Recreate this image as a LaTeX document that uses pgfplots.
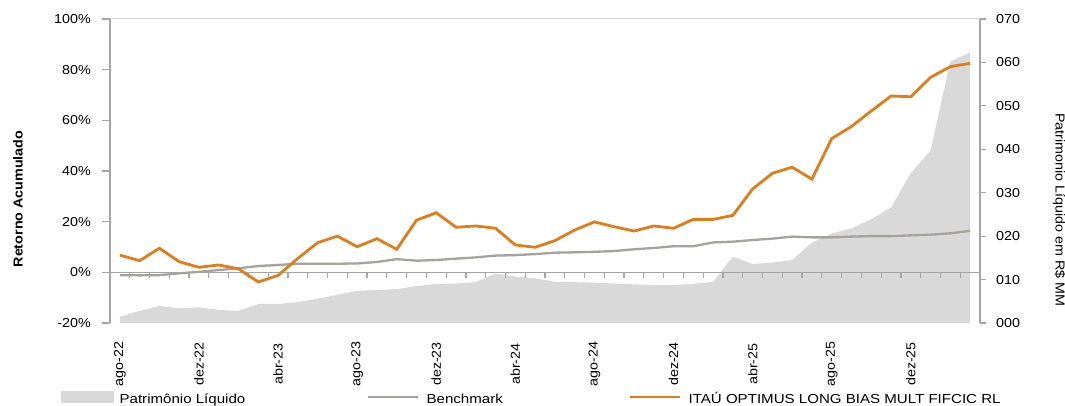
\documentclass[border=0pt]{standalone}
\usepackage{fontspec}
\setmainfont{Liberation Sans}[FakeStretch=1.1]
\newfontfamily\legfont{Liberation Sans}[FakeStretch=1.16]
\usepackage{pgfplots}
\pgfplotsset{compat=1.18}
\usepackage{pgfplotstable}
\definecolor{orangec}{RGB}{226,124,24}
\definecolor{benchc}{RGB}{166,162,156}
\definecolor{areac}{RGB}{217,217,217}
\definecolor{axisc}{RGB}{165,165,165}
\definecolor{framec}{RGB}{215,215,215}
\newcommand\fs{\fontsize{13}{15}\selectfont}

\pgfplotstableread{
i pl bench fund
0 1.45 -1.1 6.8
1 2.8 -1.2 4.6
2 3.9 -1.1 9.5
3 3.4 -0.4 4.2
4 3.6 0.2 2.0
5 3.0 0.9 2.9
6 2.8 1.6 1.4
7 4.4 2.5 -3.8
8 4.4 2.9 -1.2
9 4.8 3.4 5.5
10 5.6 3.4 11.7
11 6.5 3.4 14.3
12 7.4 3.5 10.1
13 7.6 4.1 13.3
14 7.8 5.2 9.1
15 8.5 4.6 20.6
16 9.0 4.85 23.5
17 9.1 5.4 17.8
18 9.4 5.9 18.3
19 11.4 6.6 17.4
20 10.7 6.8 10.8
21 10.3 7.2 9.9
22 9.5 7.75 12.5
23 9.4 7.9 16.7
24 9.3 8.1 19.9
25 9.1 8.4 18.0
26 8.9 9.1 16.3
27 8.75 9.6 18.3
28 8.75 10.3 17.4
29 9.0 10.3 20.9
30 9.5 11.8 20.9
31 15.3 12.1 22.5
32 13.6 12.75 32.9
33 13.9 13.3 39.1
34 14.5 14.1 41.5
35 18.5 13.8 36.8
36 20.6 13.8 52.8
37 21.8 14.1 57.6
38 23.9 14.3 63.7
39 26.6 14.3 69.6
40 34.5 14.6 69.3
41 39.7 14.85 77.0
42 60.2 15.4 81.2
43 62.3 16.4 82.5
}\datatable

\begin{document}
\begin{tikzpicture}[x=1pt,y=1pt]
\useasboundingbox (0,0) rectangle (1065,405);
% right axis: patrimonio liquido
\begin{axis}[
  at={(110pt,82pt)}, anchor=south west,
  width=870pt, height=304pt, scale only axis,
  xmin=-0.5, xmax=43.5, ymin=0, ymax=70,
  clip=false,
  axis line style={draw=none},
  xtick=\empty,
  ytick={0,10,...,70},
  yticklabels={000,010,020,030,040,050,060,070},
  ytick pos=right, yticklabel pos=right,
  tick align=outside, major tick length=5.5pt,
  ytick style={draw=axisc, line width=1.2pt},
  yticklabel style={font=\fs, anchor=west, inner sep=0pt, xshift=10.5pt},
  ylabel={Patrimonio Líquido em R\$ MM},
  ylabel style={font=\fs, at={(axis description cs:1.0908,0.372)}, rotate=180, anchor=center},
]
\addplot[fill=areac, draw=none] table[x=i, y=pl] {\datatable} \closedcycle;
\draw[axisc, line width=1.2pt] (rel axis cs:1,0) -- (rel axis cs:1,1);
\end{axis}
% left axis: retorno acumulado
\begin{axis}[
  at={(110pt,82pt)}, anchor=south west,
  width=870pt, height=304pt, scale only axis,
  xmin=-0.5, xmax=43.5, ymin=-20, ymax=100,
  clip=false,
  axis line style={draw=none},
  xtick={0,4,...,40},
  xticklabels={ago-22,dez-22,abr-23,ago-23,dez-23,abr-24,ago-24,dez-24,abr-25,ago-25,dez-25},
  xtick style={draw=none},
  xticklabel style={font=\fs, rotate=90, anchor=center, inner sep=0pt, xshift=-33pt},
  ytick={-20,0,...,100},
  yticklabels={-20\%,0\%,20\%,40\%,60\%,80\%,100\%},
  ytick pos=left,
  tick align=outside, major tick length=8pt,
  ytick style={draw=axisc, line width=1.2pt},
  yticklabel style={font=\fs, anchor=east, inner sep=0pt, xshift=-11pt},
  ylabel={Retorno Acumulado},
  ylabel style={font=\fs\bfseries, at={(axis description cs:-0.1057,0.408)}, anchor=center},
  legend columns=3,
  legend style={at={(axis description cs:-0.05632,-0.2472)}, anchor=west, draw=none, fill=none,
    font=\legfont\fs, inner sep=0pt, nodes={inner sep=0pt},
    /tikz/every even column/.append style={column sep=0pt},
    /tikz/every odd column/.append style={column sep=0pt}},
]
\draw[framec, line width=1pt] (rel axis cs:0,1) -- (rel axis cs:1,1);
\draw[axisc, line width=1.2pt] (rel axis cs:0,0) -- (rel axis cs:0,1);
\draw[axisc, line width=1.6pt] (axis cs:-0.5,0) -- (axis cs:43.5,0);
\pgfplotsinvokeforeach{0.5,1.5,...,42.5}{\draw[axisc, line width=1.2pt] (axis cs:#1,0) -- ++(0pt,-6pt);}
\addlegendimage{legend image code/.code={\fill[areac] (0pt,-4pt) rectangle (52pt,7pt);}}
\addlegendentry{\makebox[253pt][l]{\strut\hspace{6pt}Patrimônio Líquido}}
\addplot[benchc, line width=2.3pt, legend image code/.code={\draw[benchc, line width=2pt] (0pt,1.5pt) -- (50pt,1.5pt);}] table[x=i, y=bench] {\datatable};
\addlegendentry{\makebox[210pt][l]{\strut\hspace{8pt}Benchmark}}
\addplot[orangec, line width=2.8pt, legend image code/.code={\draw[orangec, line width=2pt] (0pt,1.5pt) -- (50pt,1.5pt);}] table[x=i, y=fund] {\datatable};
\addlegendentry{\strut\hspace{8pt}ITAÚ OPTIMUS LONG BIAS MULT FIFCIC RL}
\end{axis}
\end{tikzpicture}
\end{document}
